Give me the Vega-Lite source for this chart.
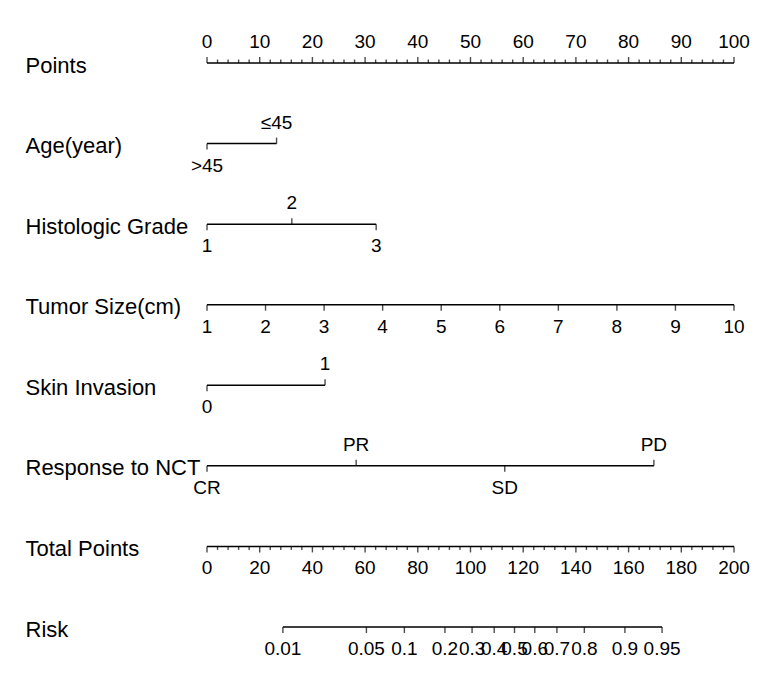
{
  "$schema": "https://vega.github.io/schema/vega-lite/v6.json",
  "autosize": "none",
  "width": 527,
  "height": 564,
  "padding": {"left": 207, "top": 63, "right": 50, "bottom": 65},
  "background": "white",
  "config": {"view": {"stroke": null}, "text": {"font": "Liberation Sans", "color": "black"}},
  "datasets": {
    "lines_pts": [
      {"var": "Points", "from": 0, "to": 100},
      {"var": "Age(year)", "from": 0, "to": 13.2},
      {"var": "Histologic Grade", "from": 0, "to": 32.1},
      {"var": "Tumor Size(cm)", "from": 0, "to": 100},
      {"var": "Skin Invasion", "from": 0, "to": 22.4},
      {"var": "Response to NCT", "from": 0, "to": 84.8}
    ],
    "lines_tot": [
      {"var": "Total Points", "from": 0, "to": 200},
      {"var": "Risk", "from": 28.8, "to": 172.7}
    ],
    "marks_pts": [
      {"var": "Points", "value": 0, "label": "0", "side": "above", "len": "long"},
      {"var": "Points", "value": 2, "label": "", "side": "above", "len": "short"},
      {"var": "Points", "value": 4, "label": "", "side": "above", "len": "short"},
      {"var": "Points", "value": 6, "label": "", "side": "above", "len": "short"},
      {"var": "Points", "value": 8, "label": "", "side": "above", "len": "short"},
      {"var": "Points", "value": 10, "label": "10", "side": "above", "len": "long"},
      {"var": "Points", "value": 12, "label": "", "side": "above", "len": "short"},
      {"var": "Points", "value": 14, "label": "", "side": "above", "len": "short"},
      {"var": "Points", "value": 16, "label": "", "side": "above", "len": "short"},
      {"var": "Points", "value": 18, "label": "", "side": "above", "len": "short"},
      {"var": "Points", "value": 20, "label": "20", "side": "above", "len": "long"},
      {"var": "Points", "value": 22, "label": "", "side": "above", "len": "short"},
      {"var": "Points", "value": 24, "label": "", "side": "above", "len": "short"},
      {"var": "Points", "value": 26, "label": "", "side": "above", "len": "short"},
      {"var": "Points", "value": 28, "label": "", "side": "above", "len": "short"},
      {"var": "Points", "value": 30, "label": "30", "side": "above", "len": "long"},
      {"var": "Points", "value": 32, "label": "", "side": "above", "len": "short"},
      {"var": "Points", "value": 34, "label": "", "side": "above", "len": "short"},
      {"var": "Points", "value": 36, "label": "", "side": "above", "len": "short"},
      {"var": "Points", "value": 38, "label": "", "side": "above", "len": "short"},
      {"var": "Points", "value": 40, "label": "40", "side": "above", "len": "long"},
      {"var": "Points", "value": 42, "label": "", "side": "above", "len": "short"},
      {"var": "Points", "value": 44, "label": "", "side": "above", "len": "short"},
      {"var": "Points", "value": 46, "label": "", "side": "above", "len": "short"},
      {"var": "Points", "value": 48, "label": "", "side": "above", "len": "short"},
      {"var": "Points", "value": 50, "label": "50", "side": "above", "len": "long"},
      {"var": "Points", "value": 52, "label": "", "side": "above", "len": "short"},
      {"var": "Points", "value": 54, "label": "", "side": "above", "len": "short"},
      {"var": "Points", "value": 56, "label": "", "side": "above", "len": "short"},
      {"var": "Points", "value": 58, "label": "", "side": "above", "len": "short"},
      {"var": "Points", "value": 60, "label": "60", "side": "above", "len": "long"},
      {"var": "Points", "value": 62, "label": "", "side": "above", "len": "short"},
      {"var": "Points", "value": 64, "label": "", "side": "above", "len": "short"},
      {"var": "Points", "value": 66, "label": "", "side": "above", "len": "short"},
      {"var": "Points", "value": 68, "label": "", "side": "above", "len": "short"},
      {"var": "Points", "value": 70, "label": "70", "side": "above", "len": "long"},
      {"var": "Points", "value": 72, "label": "", "side": "above", "len": "short"},
      {"var": "Points", "value": 74, "label": "", "side": "above", "len": "short"},
      {"var": "Points", "value": 76, "label": "", "side": "above", "len": "short"},
      {"var": "Points", "value": 78, "label": "", "side": "above", "len": "short"},
      {"var": "Points", "value": 80, "label": "80", "side": "above", "len": "long"},
      {"var": "Points", "value": 82, "label": "", "side": "above", "len": "short"},
      {"var": "Points", "value": 84, "label": "", "side": "above", "len": "short"},
      {"var": "Points", "value": 86, "label": "", "side": "above", "len": "short"},
      {"var": "Points", "value": 88, "label": "", "side": "above", "len": "short"},
      {"var": "Points", "value": 90, "label": "90", "side": "above", "len": "long"},
      {"var": "Points", "value": 92, "label": "", "side": "above", "len": "short"},
      {"var": "Points", "value": 94, "label": "", "side": "above", "len": "short"},
      {"var": "Points", "value": 96, "label": "", "side": "above", "len": "short"},
      {"var": "Points", "value": 98, "label": "", "side": "above", "len": "short"},
      {"var": "Points", "value": 100, "label": "100", "side": "above", "len": "long"},
      {"var": "Age(year)", "value": 0, "label": ">45", "side": "below", "len": "long"},
      {"var": "Age(year)", "value": 13.2, "label": "≤45", "side": "above", "len": "long"},
      {"var": "Histologic Grade", "value": 0, "label": "1", "side": "below", "len": "long"},
      {"var": "Histologic Grade", "value": 16.1, "label": "2", "side": "above", "len": "long"},
      {"var": "Histologic Grade", "value": 32.1, "label": "3", "side": "below", "len": "long"},
      {"var": "Tumor Size(cm)", "value": 0, "label": "1", "side": "below", "len": "long"},
      {"var": "Tumor Size(cm)", "value": 11.11, "label": "2", "side": "below", "len": "long"},
      {"var": "Tumor Size(cm)", "value": 22.22, "label": "3", "side": "below", "len": "long"},
      {"var": "Tumor Size(cm)", "value": 33.33, "label": "4", "side": "below", "len": "long"},
      {"var": "Tumor Size(cm)", "value": 44.44, "label": "5", "side": "below", "len": "long"},
      {"var": "Tumor Size(cm)", "value": 55.56, "label": "6", "side": "below", "len": "long"},
      {"var": "Tumor Size(cm)", "value": 66.67, "label": "7", "side": "below", "len": "long"},
      {"var": "Tumor Size(cm)", "value": 77.78, "label": "8", "side": "below", "len": "long"},
      {"var": "Tumor Size(cm)", "value": 88.89, "label": "9", "side": "below", "len": "long"},
      {"var": "Tumor Size(cm)", "value": 100, "label": "10", "side": "below", "len": "long"},
      {"var": "Skin Invasion", "value": 0, "label": "0", "side": "below", "len": "long"},
      {"var": "Skin Invasion", "value": 22.4, "label": "1", "side": "above", "len": "long"},
      {"var": "Response to NCT", "value": 0, "label": "CR", "side": "below", "len": "long"},
      {"var": "Response to NCT", "value": 28.3, "label": "PR", "side": "above", "len": "long"},
      {"var": "Response to NCT", "value": 56.5, "label": "SD", "side": "below", "len": "long"},
      {"var": "Response to NCT", "value": 84.8, "label": "PD", "side": "above", "len": "long"}
    ],
    "marks_tot": [
      {"var": "Total Points", "value": 0, "label": "0", "side": "below", "len": "long"},
      {"var": "Total Points", "value": 4, "label": "", "side": "below", "len": "short"},
      {"var": "Total Points", "value": 8, "label": "", "side": "below", "len": "short"},
      {"var": "Total Points", "value": 12, "label": "", "side": "below", "len": "short"},
      {"var": "Total Points", "value": 16, "label": "", "side": "below", "len": "short"},
      {"var": "Total Points", "value": 20, "label": "20", "side": "below", "len": "long"},
      {"var": "Total Points", "value": 24, "label": "", "side": "below", "len": "short"},
      {"var": "Total Points", "value": 28, "label": "", "side": "below", "len": "short"},
      {"var": "Total Points", "value": 32, "label": "", "side": "below", "len": "short"},
      {"var": "Total Points", "value": 36, "label": "", "side": "below", "len": "short"},
      {"var": "Total Points", "value": 40, "label": "40", "side": "below", "len": "long"},
      {"var": "Total Points", "value": 44, "label": "", "side": "below", "len": "short"},
      {"var": "Total Points", "value": 48, "label": "", "side": "below", "len": "short"},
      {"var": "Total Points", "value": 52, "label": "", "side": "below", "len": "short"},
      {"var": "Total Points", "value": 56, "label": "", "side": "below", "len": "short"},
      {"var": "Total Points", "value": 60, "label": "60", "side": "below", "len": "long"},
      {"var": "Total Points", "value": 64, "label": "", "side": "below", "len": "short"},
      {"var": "Total Points", "value": 68, "label": "", "side": "below", "len": "short"},
      {"var": "Total Points", "value": 72, "label": "", "side": "below", "len": "short"},
      {"var": "Total Points", "value": 76, "label": "", "side": "below", "len": "short"},
      {"var": "Total Points", "value": 80, "label": "80", "side": "below", "len": "long"},
      {"var": "Total Points", "value": 84, "label": "", "side": "below", "len": "short"},
      {"var": "Total Points", "value": 88, "label": "", "side": "below", "len": "short"},
      {"var": "Total Points", "value": 92, "label": "", "side": "below", "len": "short"},
      {"var": "Total Points", "value": 96, "label": "", "side": "below", "len": "short"},
      {"var": "Total Points", "value": 100, "label": "100", "side": "below", "len": "long"},
      {"var": "Total Points", "value": 104, "label": "", "side": "below", "len": "short"},
      {"var": "Total Points", "value": 108, "label": "", "side": "below", "len": "short"},
      {"var": "Total Points", "value": 112, "label": "", "side": "below", "len": "short"},
      {"var": "Total Points", "value": 116, "label": "", "side": "below", "len": "short"},
      {"var": "Total Points", "value": 120, "label": "120", "side": "below", "len": "long"},
      {"var": "Total Points", "value": 124, "label": "", "side": "below", "len": "short"},
      {"var": "Total Points", "value": 128, "label": "", "side": "below", "len": "short"},
      {"var": "Total Points", "value": 132, "label": "", "side": "below", "len": "short"},
      {"var": "Total Points", "value": 136, "label": "", "side": "below", "len": "short"},
      {"var": "Total Points", "value": 140, "label": "140", "side": "below", "len": "long"},
      {"var": "Total Points", "value": 144, "label": "", "side": "below", "len": "short"},
      {"var": "Total Points", "value": 148, "label": "", "side": "below", "len": "short"},
      {"var": "Total Points", "value": 152, "label": "", "side": "below", "len": "short"},
      {"var": "Total Points", "value": 156, "label": "", "side": "below", "len": "short"},
      {"var": "Total Points", "value": 160, "label": "160", "side": "below", "len": "long"},
      {"var": "Total Points", "value": 164, "label": "", "side": "below", "len": "short"},
      {"var": "Total Points", "value": 168, "label": "", "side": "below", "len": "short"},
      {"var": "Total Points", "value": 172, "label": "", "side": "below", "len": "short"},
      {"var": "Total Points", "value": 176, "label": "", "side": "below", "len": "short"},
      {"var": "Total Points", "value": 180, "label": "180", "side": "below", "len": "long"},
      {"var": "Total Points", "value": 184, "label": "", "side": "below", "len": "short"},
      {"var": "Total Points", "value": 188, "label": "", "side": "below", "len": "short"},
      {"var": "Total Points", "value": 192, "label": "", "side": "below", "len": "short"},
      {"var": "Total Points", "value": 196, "label": "", "side": "below", "len": "short"},
      {"var": "Total Points", "value": 200, "label": "200", "side": "below", "len": "long"},
      {"var": "Risk", "value": 28.8, "label": "0.01", "side": "below", "len": "long"},
      {"var": "Risk", "value": 60.5, "label": "0.05", "side": "below", "len": "long"},
      {"var": "Risk", "value": 74.9, "label": "0.1", "side": "below", "len": "long"},
      {"var": "Risk", "value": 90.3, "label": "0.2", "side": "below", "len": "long"},
      {"var": "Risk", "value": 100.6, "label": "0.3", "side": "below", "len": "long"},
      {"var": "Risk", "value": 109.0, "label": "0.4", "side": "below", "len": "long"},
      {"var": "Risk", "value": 116.7, "label": "0.5", "side": "below", "len": "long"},
      {"var": "Risk", "value": 124.4, "label": "0.6", "side": "below", "len": "long"},
      {"var": "Risk", "value": 132.8, "label": "0.7", "side": "below", "len": "long"},
      {"var": "Risk", "value": 143.2, "label": "0.8", "side": "below", "len": "long"},
      {"var": "Risk", "value": 158.6, "label": "0.9", "side": "below", "len": "long"},
      {"var": "Risk", "value": 172.7, "label": "0.95", "side": "below", "len": "long"}
    ]
  },
  "encoding": {
    "y": {
      "field": "var",
      "type": "nominal",
      "sort": null,
      "scale": {
        "type": "point",
        "padding": 0,
        "domain": ["Points", "Age(year)", "Histologic Grade", "Tumor Size(cm)", "Skin Invasion", "Response to NCT", "Total Points", "Risk"]
      },
      "axis": {
        "title": null,
        "orient": "left",
        "domain": false,
        "ticks": false,
        "labelAlign": "left",
        "labelBaseline": "middle",
        "labelPadding": 182,
        "labelOffset": 2,
        "labelFont": "Liberation Sans",
        "labelFontSize": 22,
        "labelColor": "black",
        "labelLimit": 400
      }
    }
  },
  "layer": [
    {
      "data": {"name": "lines_pts"},
      "mark": {"type": "rule", "color": "black", "strokeWidth": 1.5},
      "encoding": {
        "x": {"field": "from", "type": "quantitative", "scale": {"domain": [0, 100], "nice": false, "zero": false}, "axis": null},
        "x2": {"field": "to"}
      }
    },
    {
      "data": {"name": "lines_tot"},
      "mark": {"type": "rule", "color": "black", "strokeWidth": 1.5},
      "encoding": {
        "x": {"field": "from", "type": "quantitative", "scale": {"domain": [0, 200], "nice": false, "zero": false}, "axis": null},
        "x2": {"field": "to"}
      }
    },
    {
      "data": {"name": "marks_pts"},
      "transform": [{"filter": "datum.side === 'above' && datum.len === 'long'"}],
      "mark": {"type": "tick", "orient": "vertical", "color": "black", "size": 6, "thickness": 1.4, "yOffset": -3},
      "encoding": {
        "x": {"field": "value", "type": "quantitative", "scale": {"domain": [0, 100], "nice": false, "zero": false}, "axis": null}
      }
    },
    {
      "data": {"name": "marks_pts"},
      "transform": [{"filter": "datum.side === 'above' && datum.len === 'short'"}],
      "mark": {"type": "tick", "orient": "vertical", "color": "black", "size": 3.5, "thickness": 1.4, "yOffset": -1.75},
      "encoding": {
        "x": {"field": "value", "type": "quantitative", "scale": {"domain": [0, 100], "nice": false, "zero": false}, "axis": null}
      }
    },
    {
      "data": {"name": "marks_pts"},
      "transform": [{"filter": "datum.side === 'below'"}],
      "mark": {"type": "tick", "orient": "vertical", "color": "black", "size": 6, "thickness": 1.4, "yOffset": 3},
      "encoding": {
        "x": {"field": "value", "type": "quantitative", "scale": {"domain": [0, 100], "nice": false, "zero": false}, "axis": null}
      }
    },
    {
      "data": {"name": "marks_pts"},
      "transform": [{"filter": "datum.side === 'above'"}],
      "mark": {"type": "text", "fontSize": 19, "baseline": "middle", "align": "center", "dy": -21, "color": "black"},
      "encoding": {
        "x": {"field": "value", "type": "quantitative", "scale": {"domain": [0, 100], "nice": false, "zero": false}, "axis": null},
        "text": {"field": "label"}
      }
    },
    {
      "data": {"name": "marks_pts"},
      "transform": [{"filter": "datum.side === 'below'"}],
      "mark": {"type": "text", "fontSize": 19, "baseline": "middle", "align": "center", "dy": 22, "color": "black"},
      "encoding": {
        "x": {"field": "value", "type": "quantitative", "scale": {"domain": [0, 100], "nice": false, "zero": false}, "axis": null},
        "text": {"field": "label"}
      }
    },
    {
      "data": {"name": "marks_tot"},
      "transform": [{"filter": "datum.len === 'long'"}],
      "mark": {"type": "tick", "orient": "vertical", "color": "black", "size": 6, "thickness": 1.4, "yOffset": 3},
      "encoding": {
        "x": {"field": "value", "type": "quantitative", "scale": {"domain": [0, 200], "nice": false, "zero": false}, "axis": null}
      }
    },
    {
      "data": {"name": "marks_tot"},
      "transform": [{"filter": "datum.len === 'short'"}],
      "mark": {"type": "tick", "orient": "vertical", "color": "black", "size": 3.5, "thickness": 1.4, "yOffset": 1.75},
      "encoding": {
        "x": {"field": "value", "type": "quantitative", "scale": {"domain": [0, 200], "nice": false, "zero": false}, "axis": null}
      }
    },
    {
      "data": {"name": "marks_tot"},
      "mark": {"type": "text", "fontSize": 19, "baseline": "middle", "align": "center", "dy": 22, "color": "black"},
      "encoding": {
        "x": {"field": "value", "type": "quantitative", "scale": {"domain": [0, 200], "nice": false, "zero": false}, "axis": null},
        "text": {"field": "label"}
      }
    }
  ],
  "resolve": {"scale": {"x": "independent"}}
}
